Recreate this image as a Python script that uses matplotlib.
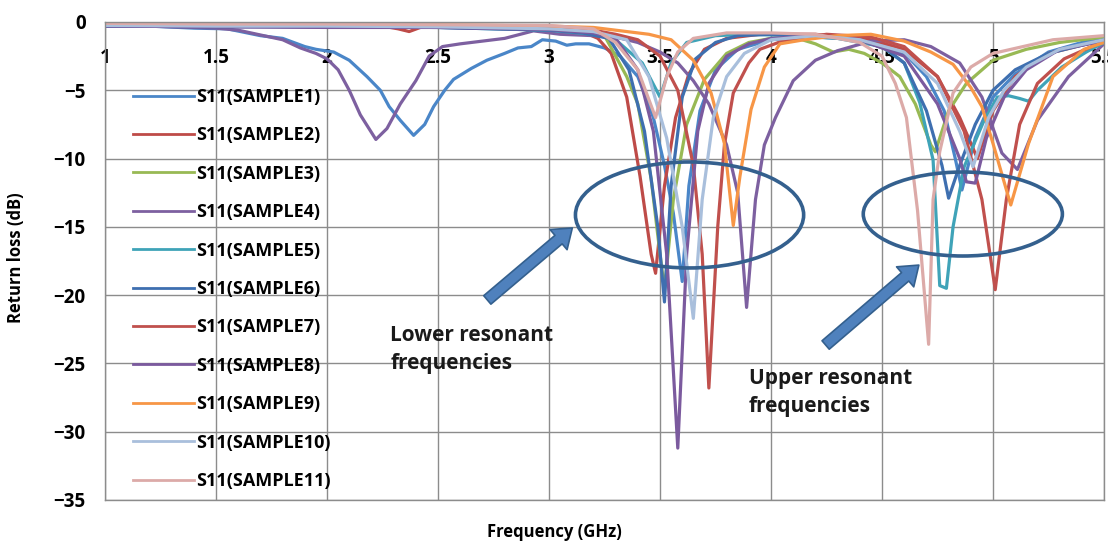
import matplotlib
matplotlib.use("Agg")
import matplotlib.pyplot as plt
import matplotlib.patches as mpatches

plt.rcParams['font.family'] = ['Open Sans', 'DejaVu Sans']

# --- measured S11 traces (GHz, dB) ---
x1 = [1.0, 1.2, 1.4, 1.55, 1.7, 1.8, 1.9, 1.95, 2.03, 2.1, 2.18, 2.24, 2.28, 2.33, 2.39, 2.44, 2.48, 2.53, 2.57, 2.65,
      2.72, 2.8, 2.86, 2.92, 2.97, 3.03, 3.08, 3.12, 3.18, 3.25, 3.32, 3.4, 3.47, 3.52, 3.56, 3.6, 3.63, 3.68, 3.75, 3.85,
      4.0, 4.2, 4.4, 4.52, 4.62, 4.7, 4.78, 4.83, 4.86, 4.92, 5.0, 5.1, 5.25, 5.4, 5.5]
y1 = [-0.3, -0.3, -0.45, -0.5, -1.0, -1.2, -1.8, -2.0, -2.2, -2.8, -4.0, -5.0, -6.2, -7.2, -8.3, -7.5, -6.2, -5.0, -4.2, -3.4,
      -2.8, -2.3, -1.9, -1.8, -1.3, -1.4, -1.7, -1.6, -1.6, -1.9, -2.5, -4.0, -7.0, -10.5, -14.0, -19.0, -12.0, -6.5, -3.5, -2.0,
      -1.3, -1.1, -1.3, -1.8, -2.6, -4.0, -6.5, -10.0, -12.3, -8.5, -5.5, -3.8, -2.2, -1.5, -1.2]

x2 = [1.0, 1.5, 2.0, 2.25, 2.32, 2.37, 2.42, 2.5, 2.8, 3.0, 3.15, 3.22, 3.28, 3.35, 3.41, 3.46, 3.48, 3.52, 3.57, 3.63,
      3.7, 3.8, 3.95, 4.2, 4.45, 4.6, 4.75, 4.85, 4.93, 5.0, 5.1, 5.25, 5.5]
y2 = [-0.2, -0.25, -0.3, -0.3, -0.5, -0.7, -0.4, -0.3, -0.35, -0.4, -0.7, -1.2, -2.3, -5.5, -11.3, -17.0, -18.4, -12.0, -7.0, -3.8,
      -2.0, -1.2, -0.9, -0.9, -1.3, -2.0, -4.0, -7.0, -10.0, -6.5, -4.0, -2.3, -1.3]

x3 = [1.0, 1.5, 2.0, 2.5, 3.0, 3.15, 3.25, 3.35, 3.4, 3.46, 3.5, 3.52, 3.56, 3.62, 3.7, 3.8, 3.9, 4.0, 4.1, 4.2,
      4.28, 4.35, 4.42, 4.5, 4.58, 4.65, 4.72, 4.74, 4.8, 4.88, 5.0, 5.15, 5.3, 5.5]
y3 = [-0.25, -0.3, -0.3, -0.35, -0.5, -0.7, -1.0, -4.0, -6.0, -11.5, -17.0, -19.6, -13.0, -7.5, -4.2, -2.3, -1.5, -1.2, -1.1, -1.6,
      -2.2, -2.0, -2.3, -3.0, -4.0, -6.0, -9.0, -9.5, -6.5, -4.5, -2.8, -2.0, -1.5, -1.1]

x4 = [1.0, 1.2, 1.4, 1.5, 1.6, 1.7, 1.8, 1.88, 1.95, 2.0, 2.05, 2.1, 2.15, 2.22, 2.27, 2.33, 2.4, 2.46, 2.52, 2.6,
      2.7, 2.8, 2.93, 3.05, 3.2, 3.3, 3.4, 3.5, 3.58, 3.65, 3.72, 3.8, 3.85, 3.89, 3.93, 3.97, 4.02, 4.1, 4.2, 4.3,
      4.45, 4.6, 4.72, 4.85, 4.95, 5.04, 5.11, 5.2, 5.34, 5.5]
y4 = [-0.25, -0.3, -0.4, -0.45, -0.6, -0.95, -1.3, -1.9, -2.3, -2.7, -3.5, -5.0, -6.8, -8.6, -7.8, -6.0, -4.3, -2.5, -1.8, -1.6,
      -1.4, -1.2, -0.65, -0.9, -1.0, -1.1, -1.5, -2.2, -3.0, -4.3, -6.0, -9.0, -12.5, -20.9, -13.0, -9.0, -7.0, -4.3, -2.8, -2.1,
      -1.4, -1.3, -1.8, -3.0, -5.5, -9.6, -10.8, -7.2, -4.0, -1.6]

x5 = [1.0, 1.5, 2.0, 2.5, 3.0, 3.2, 3.3, 3.42, 3.5, 3.55, 3.62, 3.75, 3.9, 4.1, 4.3, 4.5, 4.6, 4.67, 4.73, 4.76,
      4.79, 4.82, 4.87, 4.96, 5.02, 5.07, 5.12, 5.16, 5.2, 5.31, 5.42, 5.5]
y5 = [-0.25, -0.3, -0.35, -0.4, -0.6, -0.9, -1.3, -3.0, -5.5, -3.0, -1.5, -1.0, -0.9, -1.0, -1.2, -1.8, -3.0, -5.9, -10.1, -19.3,
      -19.5, -15.0, -10.6, -7.2, -5.5, -5.4, -5.6, -5.8, -5.0, -3.3, -2.2, -1.5]

x6 = [1.0, 1.5, 2.0, 2.5, 3.0, 3.15, 3.27, 3.36, 3.43, 3.49, 3.52, 3.55, 3.6, 3.66, 3.75, 3.85, 4.0, 4.2, 4.4, 4.52,
      4.6, 4.7, 4.77, 4.8, 4.85, 4.92, 5.0, 5.1, 5.25, 5.5]
y6 = [-0.3, -0.35, -0.35, -0.4, -0.6, -0.8, -1.2, -3.5, -8.0, -15.0, -20.5, -12.0, -5.5, -2.7, -1.5, -1.0, -0.9, -1.0, -1.3, -2.0,
      -3.0, -6.5, -10.5, -12.9, -10.5, -7.5, -5.0, -3.5, -2.3, -1.3]

x7 = [1.0, 1.5, 2.0, 2.5, 3.0, 3.2, 3.3, 3.4, 3.5, 3.58, 3.65, 3.69, 3.72, 3.76, 3.79, 3.83, 3.9, 3.95, 4.05, 4.25,
      4.45, 4.6, 4.75, 4.87, 4.95, 5.01, 5.06, 5.12, 5.2, 5.32, 5.5]
y7 = [-0.2, -0.25, -0.3, -0.3, -0.45, -0.6, -0.9, -1.3, -2.5, -5.0, -10.5, -17.0, -26.8, -15.0, -9.0, -5.2, -3.0, -2.0, -1.4, -0.9,
      -1.1, -1.8, -4.0, -8.0, -13.0, -19.6, -13.0, -7.5, -4.5, -2.7, -1.4]

x8 = [1.0, 1.5, 2.0, 2.5, 3.0, 3.2, 3.3, 3.4, 3.47, 3.53, 3.58, 3.62, 3.67, 3.72, 3.8, 3.9, 4.0, 4.2, 4.4, 4.6,
      4.75, 4.85, 4.88, 4.92, 4.97, 5.05, 5.15, 5.3, 5.5]
y8 = [-0.3, -0.35, -0.4, -0.4, -0.55, -0.8, -1.2, -3.5, -8.0, -17.0, -31.2, -17.0, -8.0, -4.5, -2.5, -1.6, -1.2, -1.0, -1.3, -2.5,
      -6.0, -10.0, -11.7, -11.8, -8.5, -5.5, -3.5, -2.0, -1.4]

x9 = [1.0, 1.5, 2.0, 2.5, 3.0, 3.2, 3.3, 3.45, 3.55, 3.65, 3.73, 3.79, 3.83, 3.86, 3.91, 3.97, 4.04, 4.15, 4.3, 4.45,
      4.6, 4.72, 4.82, 4.9, 4.95, 5.0, 5.08, 5.16, 5.27, 5.41, 5.5]
y9 = [-0.15, -0.15, -0.2, -0.2, -0.3, -0.4, -0.6, -0.9, -1.3, -2.8, -5.2, -8.9, -14.9, -11.3, -6.4, -3.3, -1.6, -1.3, -1.0, -0.9,
      -1.4, -2.2, -3.1, -4.8, -6.2, -8.9, -13.4, -8.9, -4.0, -2.0, -1.5]

x10 = [1.0, 1.5, 2.0, 2.5, 3.0, 3.2, 3.35, 3.45, 3.53, 3.6, 3.65, 3.69, 3.74, 3.8, 3.88, 4.0, 4.2, 4.4, 4.6, 4.75,
       4.85, 4.91, 4.98, 5.05, 5.15, 5.3, 5.5]
y10 = [-0.25, -0.3, -0.3, -0.35, -0.5, -0.7, -1.3, -4.0, -8.5, -15.0, -21.7, -13.0, -7.0, -4.0, -2.3, -1.3, -1.0, -1.3, -2.2, -4.5,
       -8.0, -10.6, -7.0, -5.0, -3.3, -2.0, -1.3]

x11 = [1.0, 1.5, 2.0, 2.5, 3.0, 3.2, 3.3, 3.4, 3.48, 3.53, 3.58, 3.65, 3.8, 4.0, 4.2, 4.4, 4.5, 4.56, 4.61, 4.66,
       4.71, 4.73, 4.76, 4.82, 4.9, 5.0, 5.27, 5.5]
y11 = [-0.1, -0.15, -0.15, -0.2, -0.25, -0.5, -1.5, -3.5, -7.0, -4.0, -2.2, -1.2, -0.8, -0.8, -0.9, -1.5, -2.5, -4.5, -7.0, -13.8,
       -23.6, -13.0, -9.5, -5.2, -3.3, -2.3, -1.3, -1.0]

series = [(x1, y1), (x2, y2), (x3, y3), (x4, y4), (x5, y5), (x6, y6),
          (x7, y7), (x8, y8), (x9, y9), (x10, y10), (x11, y11)]
labels = ['S11(SAMPLE%d)' % i for i in range(1, 12)]
colors = ['#4a86c8', '#be4b48', '#98b954', '#7d60a0', '#3fa3b8', '#3e6fb0',
          '#c0504d', '#7b5a9e', '#f79646', '#a9bfdc', '#dcaaa8']

xticks = [1, 1.5, 2, 2.5, 3, 3.5, 4, 4.5, 5, 5.5]
xtick_labels = ['1', '1.5', '2', '2.5', '3', '3.5', '4', '4.5', '5', '5.5']
yticks = [0, -5, -10, -15, -20, -25, -30, -35]

fig = plt.figure(figsize=(11.08, 5.43), dpi=100)
ax = fig.add_axes([0.0948, 0.0792, 0.9016, 0.8803])

for (xs, ys), lab, col in zip(series, labels, colors):
    ax.plot(xs, ys, color=col, linewidth=2.3, label=lab, solid_joinstyle='round')

ax.set_xlim(1, 5.5)
ax.set_ylim(-35, 0)
ax.set_xticks(xticks)
ax.set_xticklabels(xtick_labels)
ax.set_yticks(yticks)
ax.grid(True, color='#8c8c8c', linewidth=1.0)
ax.set_axisbelow(True)
for s in ax.spines.values():
    s.set_color('#8c8c8c')
    s.set_linewidth(1.0)

# x labels sit inside the plot, just under the 0 dB line
ax.tick_params(axis='x', bottom=False, top=False, labelbottom=False, labeltop=True,
               length=0, pad=-33, labelsize=13.5)
ax.tick_params(axis='y', left=False, length=0, pad=14, labelsize=13.5)
for t in ax.get_xticklabels() + ax.get_yticklabels():
    t.set_fontweight('bold')

fig.text(0.5, 0.02, 'Frequency (GHz)', ha='center', va='center', fontsize=12, fontweight='bold')
fig.text(0.014, 0.525, 'Return loss (dB)', ha='center', va='center', rotation=90,
         fontsize=12, fontweight='bold')

leg = ax.legend(loc='upper left', bbox_to_anchor=(0.028, 0.862), frameon=False,
                borderpad=0, borderaxespad=0, handlelength=3.4, handletextpad=0.1,
                labelspacing=1.13, prop={'size': 13, 'weight': 'bold'})
for h in leg.get_lines():
    h.set_linewidth(2.0)

# annotations
edge = '#34608e'
ax.add_patch(mpatches.Ellipse((3.633, -14.13), 1.028, 7.76, fill=False, edgecolor=edge, linewidth=2.6, zorder=5))
ax.add_patch(mpatches.Ellipse((4.864, -14.06), 0.897, 6.15, fill=False, edgecolor=edge, linewidth=2.6, zorder=5))

arrow_style = 'simple,head_length=13,head_width=19,tail_width=8'
for tail, head in [((2.722, -20.35), (3.105, -15.08)), ((4.246, -23.65), (4.666, -17.8))]:
    ax.add_patch(mpatches.FancyArrowPatch(tail, head, arrowstyle=arrow_style, mutation_scale=1,
                                          shrinkA=0, shrinkB=0, facecolor='#4f81bd',
                                          edgecolor=edge, linewidth=1.2, zorder=6))

ax.text(2.285, -22.2, 'Lower resonant\nfrequencies', ha='left', va='top', fontsize=15,
        fontweight='bold', linespacing=1.45, color='#1a1a1a', zorder=7)
ax.text(3.899, -25.3, 'Upper resonant\nfrequencies', ha='left', va='top', fontsize=15,
        fontweight='bold', linespacing=1.45, color='#1a1a1a', zorder=7)

fig.savefig('out.png', dpi=100)
